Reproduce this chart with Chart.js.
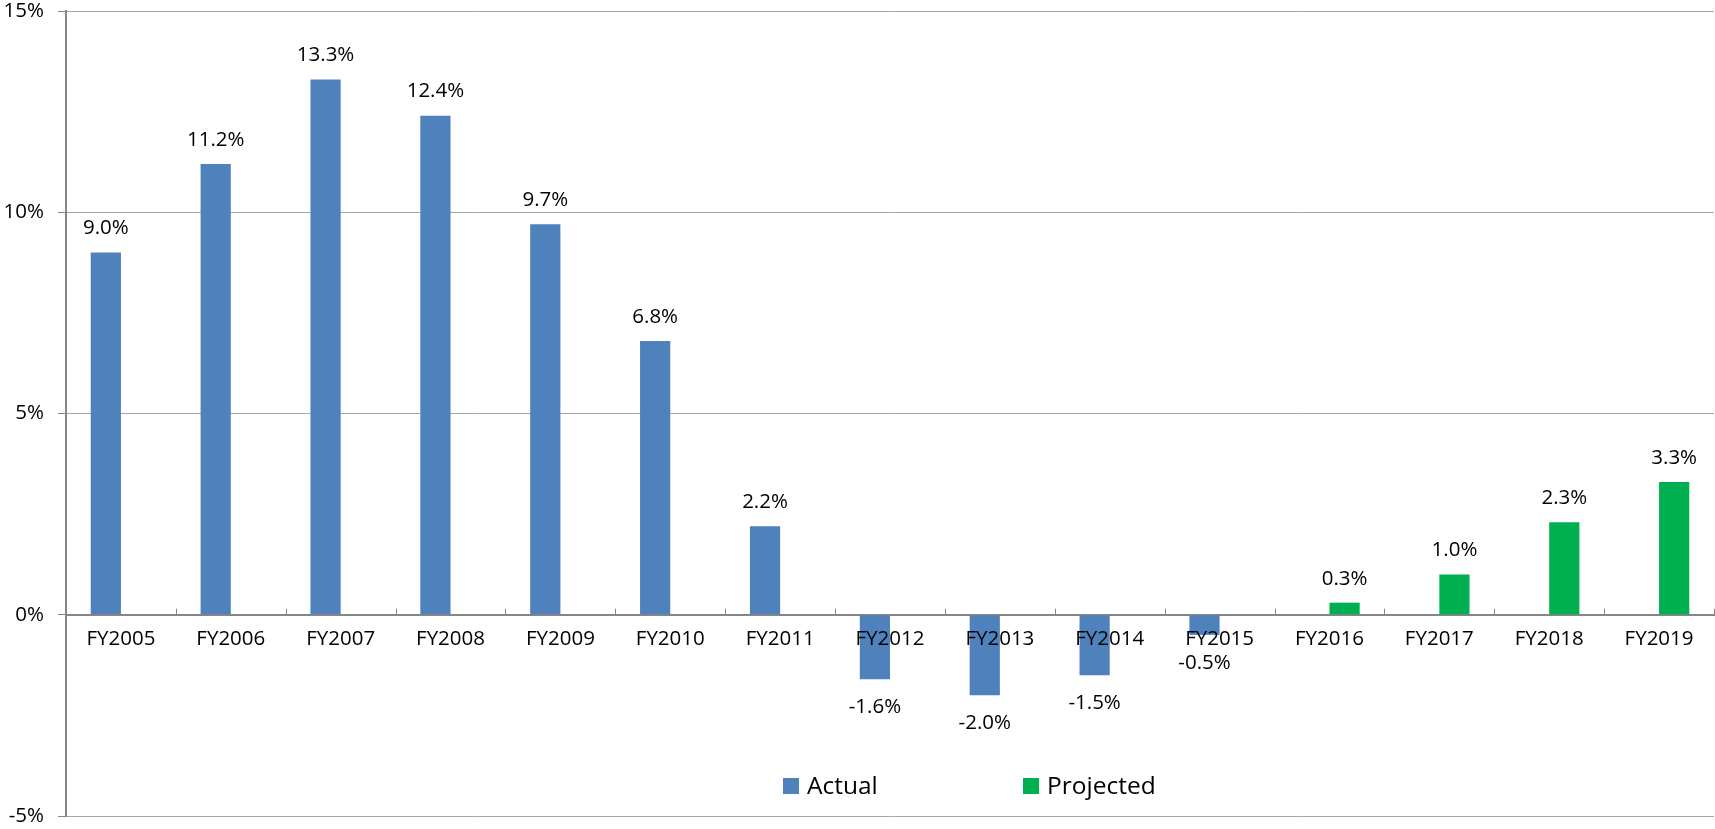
<!DOCTYPE html>
<html>
<head>
<meta charset="utf-8">
<script src="https://cdn.jsdelivr.net/npm/chart.js@4.4.1/dist/chart.umd.min.js"></script>
<style>
  html, body { margin: 0; padding: 0; background: #fff; }
  #wrap { width: 1715px; height: 829px; }
</style>
</head>
<body>
<div id="wrap"><canvas id="growthChart"></canvas></div>
<script>
const years = ['FY2005', 'FY2006', 'FY2007', 'FY2008', 'FY2009', 'FY2010', 'FY2011', 'FY2012',
  'FY2013', 'FY2014', 'FY2015', 'FY2016', 'FY2017', 'FY2018', 'FY2019'];
const actual = [9.0, 11.2, 13.3, 12.4, 9.7, 6.8, 2.2, -1.6, -2.0, -1.5, -0.5, null, null, null, null];
const projected = [null, null, null, null, null, null, null, null, null, null, null, 0.3, 1.0, 2.3, 3.3];
const yTicks = [-5, 0, 5, 10, 15];

const FONT = 'Open Sans';
const AXIS_GREY = '#868686';

// value labels above / below each bar
const barLabels = {
  id: 'barLabels',
  afterDatasetsDraw(chart) {
    const ctx = chart.ctx;
    ctx.save();
    ctx.font = '20.5px "' + FONT + '"';
    ctx.fillStyle = '#000';
    ctx.textAlign = 'center';
    ctx.textBaseline = 'middle';
    chart.data.datasets.forEach((ds, di) => {
      const meta = chart.getDatasetMeta(di);
      meta.data.forEach((bar, i) => {
        const v = ds.data[i];
        if (v === null || v === undefined) return;
        const y = v >= 0 ? bar.y - 24 : bar.y + 28;
        ctx.fillText(v.toFixed(1) + '%', bar.x, y);
      });
    });
    ctx.restore();
  }
};

// small tick marks between categories, pointing up from the zero line
const catTicks = {
  id: 'catTicks',
  beforeDatasetsDraw(chart) {
    const x = chart.scales.x, y = chart.scales.y;
    const ctx = chart.ctx;
    const y0 = y.getPixelForValue(0);
    const half = (x.getPixelForValue(1) - x.getPixelForValue(0)) / 2;
    ctx.save();
    ctx.strokeStyle = AXIS_GREY;
    ctx.lineWidth = 1;
    ctx.beginPath();
    for (let i = 1; i <= years.length; i++) {
      const px = Math.round(x.getPixelForValue(i) - half) + 0.5;
      ctx.moveTo(px, y0);
      ctx.lineTo(px, y0 - 6);
    }
    ctx.stroke();
    ctx.restore();
  }
};

// legend sitting inside the plot, near the bottom
const innerLegend = {
  id: 'innerLegend',
  afterDraw(chart) {
    const ctx = chart.ctx;
    const area = chart.chartArea;
    const startX = area.left + 717;
    const cy = area.bottom - 30;
    const gap = 240;
    ctx.save();
    ctx.font = '24.5px "' + FONT + '"';
    ctx.textBaseline = 'middle';
    chart.data.datasets.forEach((ds, i) => {
      const bx = startX + i * gap;
      ctx.fillStyle = ds.backgroundColor;
      ctx.fillRect(bx, cy - 8, 16, 16);
      ctx.fillStyle = '#000';
      ctx.fillText(ds.label, bx + 24, cy + 1);
    });
    ctx.restore();
  }
};

new Chart(document.getElementById('growthChart'), {
  type: 'bar',
  data: {
    labels: years,
    datasets: [
      { label: 'Actual', data: actual, backgroundColor: '#4F81BD' },
      { label: 'Projected', data: projected, backgroundColor: '#00B050' }
    ]
  },
  options: {
    responsive: true,
    maintainAspectRatio: false,
    animation: false,
    devicePixelRatio: 1,
    layout: { padding: { top: 0, bottom: 0, right: 1, left: 0 } },
    datasets: { bar: { categoryPercentage: 0.55, barPercentage: 1.0 } },
    scales: {
      x: {
        position: { y: 0 },
        grid: { display: false, drawTicks: false },
        border: { display: true, color: AXIS_GREY, width: 2 },
        ticks: { z: 1, color: '#000', font: { family: FONT, size: 20.5 }, padding: 12, maxRotation: 0, autoSkip: false }
      },
      y: {
        min: -5,
        max: 15,
        afterBuildTicks: (s) => { s.ticks = yTicks.map(v => ({ value: v })); },
        afterFit: (s) => { s.width = 66; s.paddingTop = 11; s.paddingBottom = 13; },
        grid: { color: '#a6a6a6', tickLength: 8, tickColor: AXIS_GREY },
        border: { display: true, color: AXIS_GREY, width: 2 },
        ticks: { color: '#000', font: { family: FONT, size: 20.5 }, padding: 14, callback: (v) => v + '%' }
      }
    },
    plugins: {
      legend: { display: false },
      tooltip: { enabled: false },
      title: { display: false }
    }
  },
  plugins: [catTicks, barLabels, innerLegend]
});
</script>
</body>
</html>
